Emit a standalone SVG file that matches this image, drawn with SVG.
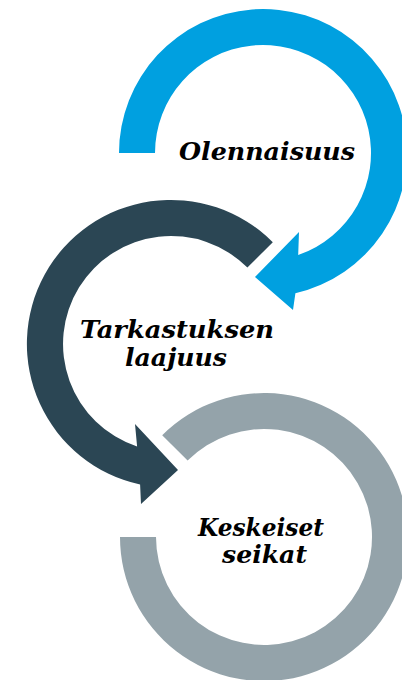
<svg xmlns="http://www.w3.org/2000/svg" width="402" height="680" viewBox="0 0 402 680">
<style>
.lbl{font-family:"DejaVu Serif","Liberation Serif",serif;font-weight:bold;font-style:italic;font-size:25px;fill:#000}
</style>
<rect width="402" height="680" fill="#fff"/>
<g id="connectors">
<path id="arrow-blue" fill="#00A0E0" d="M 119 153 A 144 144 0 1 1 295.4 293.3 L 293 310 L 255 277 L 299 232 L 298.2 255.1 A 108 108 0 1 0 155 153 Z"/>
<path id="arrow-dark" fill="#2B4654" d="M 272.8 242.2 A 144 144 0 1 0 140.1 484.6 L 141 504 L 178 470 L 135 424 L 137.1 446.5 A 108 108 0 1 1 247.4 267.6 Z"/>
<path id="ring-gray" fill="#94A3AA" d="M 162.2 435.2 A 144 144 0 1 1 120 537 L 156 537 A 108 108 0 1 0 187.6 460.6 Z"/>
</g>
<g id="node-olennaisuus">
<text class="lbl" x="179" y="160" textLength="176" lengthAdjust="spacingAndGlyphs">Olennaisuus</text>
</g>
<g id="node-tarkastuksen">
<text class="lbl" x="80" y="338" textLength="194" lengthAdjust="spacingAndGlyphs">Tarkastuksen</text>
<text class="lbl" x="125" y="366" textLength="102" lengthAdjust="spacingAndGlyphs">laajuus</text>
</g>
<g id="node-keskeiset">
<text class="lbl" x="198" y="536" textLength="126" lengthAdjust="spacingAndGlyphs">Keskeiset</text>
<text class="lbl" x="222" y="563" textLength="85" lengthAdjust="spacingAndGlyphs">seikat</text>
</g>
</svg>
